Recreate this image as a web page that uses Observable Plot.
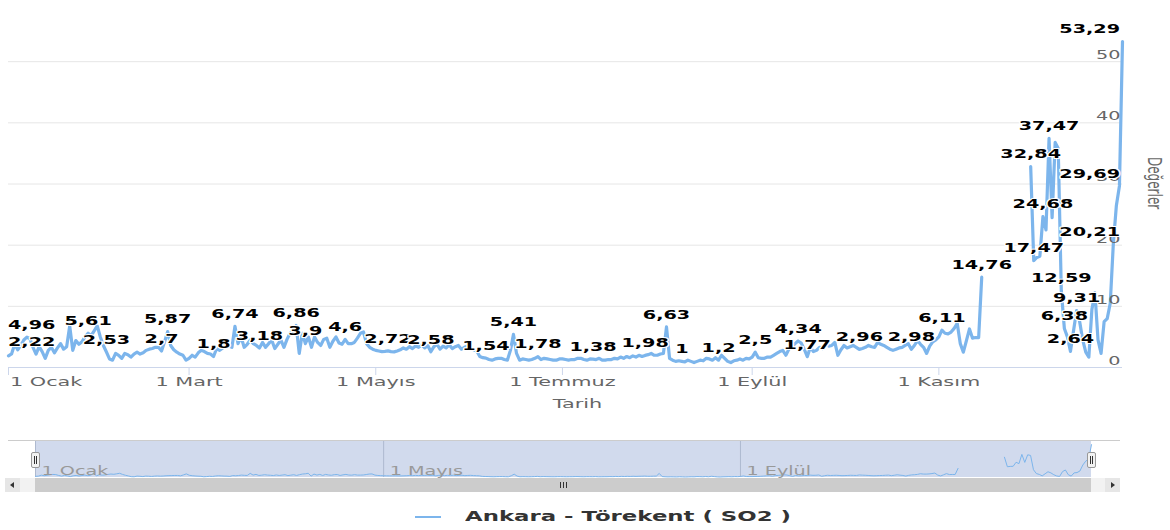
<!DOCTYPE html>
<html lang="tr">
<head>
<meta charset="utf-8">
<title>Ankara - Törekent ( SO2 )</title>
<script src="https://cdn.jsdelivr.net/npm/d3@7"></script>
<script src="https://cdn.jsdelivr.net/npm/@observablehq/plot@0.6"></script>
<style>
  html, body { margin: 0; padding: 0; background: #fff; }
  #chart { position: relative; width: 1170px; height: 530px; overflow: hidden;
           font-family: "DejaVu Sans", sans-serif; }
  #main { position: absolute; left: 0; top: 0; }
  #nav { position: absolute; left: 0; top: 430px; }
  .abs { position: absolute; box-sizing: border-box; }
</style>
</head>
<body>
<div id="chart">
  <div id="main"></div>
  <div id="nav"></div>
</div>
<script>
// Daily SO2 readings for Ankara - Törekent, one value per day from 1 January.
// null marks days without a measurement (second half of November).
const startDate = "2017-01-01";
const so2 = [
  // January
  1.9, 2.22, 3.8, 2.9, 3.6, 4.5, 4.96, 4.7, 3.3, 2.2, 3.4, 2.6, 1.5, 2.8, 3.3, 2.4,
  3.2, 3.9, 3.0, 3.4, 6.8, 2.8, 4.4, 3.8, 4.2, 5.0, 5.61, 5.2, 6.0, 6.8, 5.0,
  // February
  3.6, 2.53, 1.4, 1.2, 2.3, 2.0, 1.5, 2.3, 2.1, 1.7, 2.2, 2.5, 2.2, 2.4, 2.8, 3.0,
  3.1, 3.3, 3.3, 2.7, 4.2, 5.87, 3.6, 2.9, 2.5, 2.2, 2.0, 1.2,
  // March
  1.5, 2.0, 1.7, 2.4, 2.8, 2.6, 2.3, 2.2, 1.8, 3.1, 2.8, 3.2, 3.9, 3.5, 3.3, 6.74,
  3.9, 5.0, 3.3, 3.8, 4.5, 3.9, 3.6, 3.18, 4.1, 3.3, 3.9, 4.5, 3.1, 3.8, 4.5,
  // April
  3.3, 4.6, 5.6, 6.0, 6.86, 2.3, 5.6, 3.9, 5.0, 3.3, 5.0, 4.1, 3.6, 4.6, 4.8, 3.3,
  4.3, 5.0, 4.0, 3.8, 4.6, 3.9, 3.9, 4.1, 4.8, 5.6, 5.8, 3.9, 3.3, 3.0,
  // May
  2.8, 2.7, 2.6, 2.65, 2.72, 2.6, 2.55, 2.7, 2.9, 3.2, 3.0, 3.4, 3.1, 3.5, 3.3, 3.7,
  3.2, 3.6, 2.58, 3.4, 3.8, 3.0, 3.5, 3.2, 3.7, 3.1, 3.4, 3.6, 3.0, 3.3, 3.5,
  // June
  3.1, 2.9, 2.7, 1.8, 1.6, 1.54, 1.3, 1.2, 1.4, 1.5, 1.5, 1.3, 1.2, 2.8, 5.41, 2.3,
  1.2, 1.4, 1.3, 1.2, 1.3, 1.5, 1.78, 1.3, 1.5, 1.4, 1.3, 1.2, 1.2, 1.4,
  // July
  1.4, 1.3, 1.2, 1.3, 1.3, 1.5, 1.5, 1.3, 1.2, 1.4, 1.38, 1.3, 1.5, 1.2, 1.2, 1.3,
  1.3, 1.5, 1.4, 1.7, 1.5, 1.8, 1.6, 1.9, 1.7, 2.0, 1.8, 1.98, 2.1, 2.3, 2.0,
  // August
  2.0, 2.2, 2.3, 6.63, 1.5, 1.2, 1.0, 1.1, 1.0, 0.9, 1.2, 1.0, 0.8, 1.0, 1.2, 1.1,
  1.5, 1.4, 1.2, 1.6, 1.2, 2.0, 1.5, 1.0, 0.8, 1.1, 1.2, 1.4, 1.2, 1.5, 1.4,
  // September
  1.7, 2.5, 1.6, 1.5, 1.5, 1.7, 1.7, 2.0, 2.3, 2.6, 2.8, 2.0, 3.0, 3.4, 3.9, 4.34,
  4.0, 3.0, 1.77, 3.3, 2.6, 2.8, 3.3, 3.1, 3.9, 3.5, 3.6, 4.1, 2.0, 2.9,
  // October
  3.6, 3.2, 3.4, 3.6, 3.3, 2.96, 3.1, 3.3, 3.6, 3.4, 3.3, 4.1, 3.8, 3.6, 3.3, 3.0,
  2.8, 3.0, 3.2, 3.3, 3.6, 3.9, 2.98, 3.6, 4.4, 3.8, 3.3, 2.3, 3.5, 4.2, 4.5,
  // November
  5.0, 6.11, 5.6, 5.5, 5.8, 6.4, 7.2, 3.9, 2.5, 4.4, 6.3, 4.8, 4.9, 4.9, 14.76,
  null, null, null, null, null, null, null, null, null, null, null, null, null, null, null,
  // December
  32.84, 17.47, 18.0, 18.2, 24.68, 22.5, 37.47, 24.5, 36.8, 35.8, 12.59, 6.38, 5.0, 2.64, 6.0, 9.31,
  7.5, 4.5, 2.5, 1.7, 9.5, 12.2, 4.5, 2.3, 7.5, 8.0, 10.5, 20.21, 26.5, 29.69, 53.29
];

// Days (index from 1 January) whose value is printed above the line
const labeledDays = [1, 6, 26, 32, 50, 52, 67, 74, 82, 94, 97, 110, 124, 138, 156, 165,
  173, 191, 208, 215, 220, 232, 244, 258, 261, 278, 295, 305, 318, 334, 335, 338, 340,
  344, 345, 347, 349, 361, 363, 364];

const xTickDates = ["2017-01-01", "2017-03-01", "2017-05-01", "2017-07-01", "2017-09-01", "2017-11-01"];
const xTickLabels = ["1 Ocak", "1 Mart", "1 Mayıs", "1 Temmuz", "1 Eylül", "1 Kasım"];
const navTickDates = ["2017-01-01", "2017-05-01", "2017-09-01"];
const navTickLabels = ["1 Ocak", "1 Mayıs", "1 Eylül"];
const yTicks = [0, 10, 20, 30, 40, 50];
const yMax = 60;
const seriesName = "Ankara - Törekent ( SO2 )";
const xTitle = "Tarih";
const yTitle = "Değerler";

// ---- derived tables ----
const utc = s => new Date(s + "T00:00:00Z");
const day0 = utc(startDate);
const rows = so2.map((v, i) => ({date: new Date(day0.getTime() + i * 864e5), value: v}));
const labelRows = labeledDays.map(i => rows[i]);
const fmt = v => String(v).replace(".", ",");
const xDomain = [rows[0].date, rows[rows.length - 1].date];
const xTicks = xTickDates.map(utc);
const navTicks = navTickDates.map(utc);
const tickName = new Map(xTicks.map((d, i) => [+d, xTickLabels[i]]));
const navName = new Map(navTicks.map((d, i) => [+d, navTickLabels[i]]));

const LINE = "#7cb5ec";
const STRETCH = 1.6;          // wide lettering of the labels
const FONT = '"DejaVu Sans", sans-serif';

// Widen glyphs horizontally around each text's own anchor point
// (vertical offsets such as y="0.71em" are left untouched).
function stretchText(svg) {
  svg.querySelectorAll("text").forEach(t => {
    let tr = t.getAttribute("transform") || "";
    const x = t.getAttribute("x");
    if (x != null && x !== "" && !isNaN(+x)) {
      tr += ` translate(${+x},0)`;
      t.removeAttribute("x");
    }
    tr += ` scale(${STRETCH},1)`;
    t.setAttribute("transform", tr.trim());
  });
}

// Keep labels inside [lo, hi] by sliding them sideways.
function justify(svg, texts, lo, hi) {
  const r0 = svg.getBoundingClientRect();
  texts.forEach(t => {
    const b = t.getBoundingClientRect();
    const left = b.left - r0.left, right = b.right - r0.left;
    let shift = 0;
    if (left < lo) shift = lo - left;
    else if (right > hi) shift = hi - right;
    if (shift) t.setAttribute("transform", `translate(${shift},0) ` + t.getAttribute("transform"));
  });
}

// ---- main chart ----
const main = Plot.plot({
  width: 1170, height: 420,
  marginLeft: 8, marginRight: 48, marginTop: 0, marginBottom: 53,
  style: {fontFamily: FONT, background: "transparent", overflow: "visible"},
  x: {type: "utc", domain: xDomain},
  y: {domain: [0, yMax], axis: null},
  marks: [
    Plot.ruleY(yTicks.filter(d => d > 0), {stroke: "#e6e6e6", strokeWidth: 1}),
    Plot.axisX({ticks: xTicks, tickFormat: d => tickName.get(+d), tickSize: 8, tickPadding: 1,
      stroke: "#ccd6eb", fill: "#666", fontSize: 13, label: null}),
    Plot.ruleY([0], {stroke: "#ccd6eb", strokeWidth: 1}),
    Plot.line(rows, {x: "date", y: "value", stroke: LINE, strokeWidth: 3.2,
      strokeLinejoin: "round", strokeLinecap: "round"}),
    Plot.text(yTicks, {x: xDomain[1], y: d => d, text: d => String(d), textAnchor: "end",
      dx: -2, dy: -6.5, fill: "#666", fontSize: 12}),
    Plot.text(labelRows, {x: "date", y: "value", text: d => fmt(d.value), dy: -12,
      fontSize: 12, fontWeight: "bold", fill: "#000", stroke: "#fff", strokeWidth: 2,
      paintOrder: "stroke"}),
    Plot.text([xTitle], {frameAnchor: "bottom", dy: 40, dx: 12, fill: "#666", fontSize: 13})
  ]
});
document.getElementById("main").appendChild(main);
stretchText(main);
{
  const groups = main.querySelectorAll('g[aria-label="text"]');
  const xs = main.scale("x");
  const left = xs.apply(xDomain[0]), right = xs.apply(xDomain[1]);
  justify(main, groups[1].querySelectorAll("text"), left, right - 2);
  justify(main, main.querySelectorAll('g[aria-label="x-axis tick label"] text'), left + 2, 1170);
}

// ---- navigator ----
const nav = Plot.plot({
  width: 1170, height: 48,
  marginLeft: 35, marginRight: 79, marginTop: 10, marginBottom: 1,
  style: {fontFamily: FONT, background: "transparent", overflow: "visible"},
  x: {type: "utc", domain: xDomain, axis: null},
  y: {domain: [0, yMax], axis: null},
  marks: [
    Plot.rect([xDomain], {x1: d => d[0], x2: d => d[1], y1: 0, y2: yMax,
      fill: "#6685c2", fillOpacity: 0.3}),
    Plot.ruleX(navTicks, {stroke: "#aeb9cf", strokeWidth: 1}),
    Plot.line(rows, {x: "date", y: "value", stroke: LINE, strokeWidth: 1}),
    Plot.text(navTicks, {x: d => d, text: d => navName.get(+d), frameAnchor: "bottom",
      textAnchor: "start", lineAnchor: "middle", dx: 6, dy: -6, fill: "#999", fontSize: 12})
  ]
});
document.getElementById("nav").appendChild(nav);
stretchText(nav);

// ---- chart chrome: y-axis title, navigator outline, handles, scrollbar, legend ----
const chart = document.getElementById("chart");
function box(css, html = "") {
  const d = document.createElement("div");
  d.className = "abs";
  d.style.cssText += css;
  d.innerHTML = html;
  chart.appendChild(d);
  return d;
}
// vertical axis title, reading top to bottom, centred on the plot height
{
  const ys = main.scale("y");
  const cy = (ys.apply(0) + ys.apply(yMax)) / 2;
  const t = box(`left:1147px;top:${cy - 27}px;width:14px;height:54px;writing-mode:vertical-rl;
    font:12px ${FONT};line-height:14px;color:#666;text-align:center;white-space:nowrap;
    transform:scaleX(${STRETCH});transform-origin:50% 50%;`);
  t.textContent = yTitle;
}
const nx = nav.scale("x");
const sx = nx.apply(xDomain[0]), ex = nx.apply(xDomain[1]);
box(`left:8px;top:440px;width:1112px;height:1px;background:#cccccc;`);
function handle(cx) {
  box(`left:${cx - 4}px;top:452px;width:9px;height:16px;background:#f2f2f2;border:1px solid #999;border-radius:2px;`,
    `<div class="abs" style="left:2px;top:3px;width:1px;height:8px;background:#333"></div>
     <div class="abs" style="left:4px;top:3px;width:1px;height:8px;background:#333"></div>`);
}
handle(sx); handle(ex);
// scrollbar track, buttons and bar
box(`left:5px;top:478px;width:1115px;height:14px;background:#f2f2f2;`);
box(`left:5px;top:478px;width:15px;height:14px;background:#e6e6e6;`,
  `<div class="abs" style="left:5px;top:4px;width:0;height:0;border-top:3px solid transparent;border-bottom:3px solid transparent;border-right:4px solid #333"></div>`);
box(`left:1105px;top:478px;width:15px;height:14px;background:#e6e6e6;`,
  `<div class="abs" style="left:6px;top:4px;width:0;height:0;border-top:3px solid transparent;border-bottom:3px solid transparent;border-left:4px solid #333"></div>`);
const bar = box(`left:${sx}px;top:478px;width:${ex - sx}px;height:14px;background:#cccccc;`);
const mid = (ex - sx) / 2;
[-3, 0, 3].forEach(o => {
  const r = document.createElement("div");
  r.className = "abs";
  r.style.cssText += `left:${mid + o}px;top:4px;width:1px;height:6px;background:#333;`;
  bar.appendChild(r);
});

// legend
box(`left:415px;top:516px;width:26px;height:2px;background:${LINE};`);
const lg = box(`left:465px;top:508px;white-space:nowrap;font:bold 14px ${FONT};color:#333;
  transform:scaleX(1.63);transform-origin:0 0;`);
lg.textContent = seriesName;
</script>
</body>
</html>
